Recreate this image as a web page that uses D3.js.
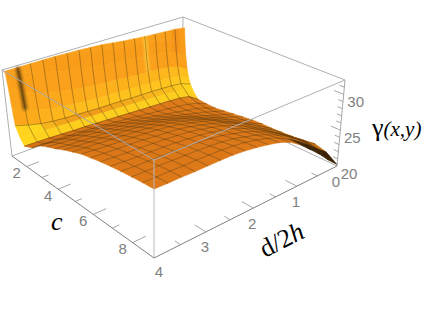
<!DOCTYPE html>
<html lang="en">
<head>
<meta charset="utf-8">
<title>Surface plot</title>
<script src="https://d3js.org/d3.v7.min.js"></script>
<style>
  html, body { margin: 0; background: #fff; }
  svg { display: block; }
  .tick-label { font: 15px "Liberation Sans", sans-serif; fill: #808080; }
  .axis-label { font-family: "Liberation Serif", serif; fill: #000; }
</style>
</head>
<body>
<svg id="chart" width="425" height="316"></svg>
<script>
// d/2h values (columns of the table)
const dValues = [0, 0.25, 0.5, 0.75, 1, 1.25, 1.5, 1.75, 2, 2.25, 2.5, 2.75, 3, 3.25, 3.5, 3.75, 4];
// c values (rows of the table), denser where the wall bends
const cValues = [1.1, 1.15, 1.2, 1.3, 1.4, 1.5, 1.75, 2, 2.5, 3, 3.5, 4, 4.5, 5, 5.5, 6, 6.5, 7, 7.5, 8, 8.5, 9];
// gamma, one row per c
const gammaValues = [
  [30.4, 30.6, 30.7, 30.8, 30.9, 31.05, 31.2, 31.4, 31.6, 31.7, 31.8, 31.85, 31.9, 31.9, 31.9, 31.9, 31.9],
  [27.8, 28.9, 29.4, 29.7, 29.9, 30.1, 30.35, 30.6, 30.85, 31.1, 31.4, 31.6, 31.8, 31.9, 31.9, 31.9, 31.9],
  [26, 27.1, 27.6, 27.8, 27.95, 28.1, 28.3, 28.5, 28.7, 28.95, 29.2, 29.5, 29.9, 30.3, 30.8, 31.3, 31.9],
  [24, 25, 25.4, 25.6, 25.7, 25.8, 25.95, 26.1, 26.25, 26.4, 26.6, 26.85, 27.1, 27.5, 28, 28.8, 29.8],
  [22.8, 23.6, 23.9, 24, 24.1, 24.2, 24.3, 24.4, 24.5, 24.6, 24.75, 24.9, 25.1, 25.4, 25.8, 26.4, 27.2],
  [22, 22.6, 22.8, 22.9, 23, 23.05, 23.1, 23.2, 23.25, 23.3, 23.4, 23.5, 23.6, 23.75, 24, 24.4, 24.9],
  [20.9, 21.9, 22.2, 22.35, 22.45, 22.55, 22.65, 22.75, 22.85, 22.95, 23.05, 23.15, 23.2, 23.3, 23.4, 23.5, 23.6],
  [20.2, 21.2, 21.5, 21.65, 21.75, 21.85, 21.95, 22.05, 22.15, 22.25, 22.35, 22.45, 22.5, 22.6, 22.7, 22.75, 22.8],
  [20.1, 20.8, 21.2, 21.45, 21.65, 21.85, 22.05, 22.25, 22.45, 22.6, 22.75, 22.9, 23, 23.1, 23.2, 23.25, 23.3],
  [20.1, 20.7, 21.2, 21.5, 21.8, 22.1, 22.4, 22.7, 22.95, 23.2, 23.4, 23.6, 23.75, 23.85, 24, 24.15, 24.3],
  [20.3, 20.8, 21.3, 21.7, 22.1, 22.5, 22.9, 23.2, 23.5, 23.8, 24, 24.2, 24.35, 24.5, 24.6, 24.75, 24.9],
  [20.5, 21, 21.5, 22, 22.5, 23, 23.4, 23.8, 24.15, 24.4, 24.6, 24.8, 24.95, 25.05, 25.15, 25.25, 25.4],
  [20.7, 21.3, 21.8, 22.4, 22.9, 23.5, 24, 24.4, 24.75, 25, 25.25, 25.4, 25.5, 25.65, 25.75, 25.85, 26],
  [20.9, 21.5, 22.1, 22.8, 23.4, 24, 24.5, 24.95, 25.3, 25.6, 25.8, 25.95, 26.05, 26.2, 26.3, 26.4, 26.5],
  [21, 21.7, 22.4, 23.1, 23.8, 24.5, 25, 25.4, 25.8, 26.1, 26.3, 26.45, 26.55, 26.65, 26.75, 26.85, 27],
  [21, 21.9, 22.7, 23.5, 24.2, 24.9, 25.4, 25.8, 26.2, 26.5, 26.65, 26.8, 26.95, 27.05, 27.1, 27.2, 27.3],
  [21.1, 22.1, 22.9, 23.7, 24.5, 25.2, 25.8, 26.2, 26.55, 26.85, 27, 27.15, 27.25, 27.35, 27.4, 27.5, 27.6],
  [21.2, 22.2, 23.1, 24, 24.8, 25.5, 26.1, 26.5, 26.9, 27.15, 27.3, 27.45, 27.55, 27.6, 27.65, 27.75, 27.85],
  [21.4, 22.4, 23.4, 24.3, 25.1, 25.8, 26.4, 26.8, 27.2, 27.45, 27.6, 27.75, 27.8, 27.85, 27.9, 27.95, 28.05],
  [21.6, 22.6, 23.6, 24.6, 25.4, 26.1, 26.7, 27.1, 27.5, 27.75, 27.9, 28, 28.05, 28.1, 28.15, 28.15, 28.2],
  [21.2, 22.3, 23.5, 24.6, 25.6, 26.4, 27, 27.45, 27.8, 28, 28.15, 28.2, 28.25, 28.25, 28.3, 28.3, 28.35],
  [20.2, 21.5, 23, 24.3, 25.6, 26.6, 27.2, 27.6, 27.9, 28.15, 28.3, 28.35, 28.35, 28.35, 28.4, 28.4, 28.45]
];
// tick values
const cTicks = [2, 3, 4, 5, 6, 7, 8];
const cLabels = [2, 4, 6, 8];
const dTicks = [0.5, 1, 1.5, 2, 2.5, 3, 3.5];
const dLabels = [0, 1, 2, 3, 4];
const gammaTicks = [21, 22, 23, 24, 25, 26, 27, 28, 29, 30, 31];
const gammaLabels = [20, 25, 30];

const svg = d3.select("#chart");

// box corners on screen, in order (d=0,c=1) (d=4,c=1) (d=4,c=9) (d=0,c=9)
const floorQuad = [[182, 93], [12, 156], [154, 258], [337, 166]];
const ceilQuad = [[183, 17], [2, 70], [154, 160], [345, 80]];

// maps the unit square on a quad
function quadMap(p) {
  var sx = p[0][0] - p[1][0] + p[2][0] - p[3][0], sy = p[0][1] - p[1][1] + p[2][1] - p[3][1];
  var dx1 = p[1][0] - p[2][0], dx2 = p[3][0] - p[2][0];
  var dy1 = p[1][1] - p[2][1], dy2 = p[3][1] - p[2][1];
  var den = dx1 * dy2 - dx2 * dy1;
  var g = (sx * dy2 - dx2 * sy) / den, h = (dx1 * sy - sx * dy1) / den;
  var a = p[1][0] - p[0][0] + g * p[1][0], b = p[3][0] - p[0][0] + h * p[3][0];
  var d = p[1][1] - p[0][1] + g * p[1][1], e = p[3][1] - p[0][1] + h * p[3][1];
  return function(s, t) {
    var w = g * s + h * t + 1;
    return [(a * s + b * t + p[0][0]) / w, (d * s + e * t + p[0][1]) / w];
  };
}

const floorMap = quadMap(floorQuad), ceilMap = quadMap(ceilQuad);
const dScale = d3.scaleLinear().domain([0, 4]).range([0, 1]);
const cScale = d3.scaleLinear().domain([1, 9]).range([0, 1]);
const gammaScale = d3.scaleLinear().domain([20, 32]).range([0, 1]);

function project(d, c, gamma) {
  var lo = floorMap(dScale(d), cScale(c)), hi = ceilMap(dScale(d), cScale(c));
  var k = gammaScale(gamma);
  return [lo[0] + (hi[0] - lo[0]) * k, lo[1] + (hi[1] - lo[1]) * k];
}

const line = d3.line();
const plot = svg.append("g").style("filter", "blur(0.5px)");

function edge(a, b, col) {
  plot.append("path").attr("d", line([a, b])).attr("fill", "none")
    .attr("stroke", col || "#b0b0b0").attr("stroke-width", 1);
}

// back of the box
edge(project(4, 1, 32), project(0, 1, 32));
edge(project(0, 1, 32), project(0, 9, 32));
edge(project(0, 1, 32), project(0, 1, 20));
edge(project(4, 1, 20), project(0, 1, 20));
edge(project(0, 1, 20), project(0, 9, 20));

// colour comes from the slope along c, dark where it drops fast towards d=0
const slopeColor = d3.scaleLinear()
  .domain([-2, -0.5, 0.5, 1.5, 3, 10, 20, 35])
  .range(["#c66a12", "#dc7818", "#de7a18", "#f0a01a", "#ffd51e", "#ffc81e", "#fca81b", "#f99c1a"])
  .clamp(true);
const darkMix = d3.scaleLinear().domain([4.1, 4.6]).range([0, 1]).clamp(true);

var cells = [];
for (var i = 0; i < cValues.length - 1; i++) {
  for (var j = 0; j < dValues.length - 1; j++) {
    var g00 = gammaValues[i][j], g01 = gammaValues[i][j + 1], g10 = gammaValues[i + 1][j], g11 = gammaValues[i + 1][j + 1];
    var alongC = ((g00 + g01) - (g10 + g11)) / 2 / (cValues[i + 1] - cValues[i]);
    var alongD = ((g01 + g11) - (g00 + g10)) / 2 / (dValues[j + 1] - dValues[j]);
    // the top of the wall is flattened by the plot range, keep it wall coloured
    if (cValues[i] < 1.3) alongC = Math.max(alongC, 30);
    var fill = slopeColor(alongC);
    if (alongC < 2) fill = d3.interpolateRgb(fill, "#3a2005")(darkMix(alongD));
    cells.push({
      depth: dScale(dValues[j]) + cScale(cValues[i]),
      fill: fill,
      pts: [project(dValues[j], cValues[i], g00), project(dValues[j + 1], cValues[i], g01),
            project(dValues[j + 1], cValues[i + 1], g11), project(dValues[j], cValues[i + 1], g10)]
    });
  }
}
cells.sort((a, b) => a.depth - b.depth);

plot.append("g").selectAll("path").data(cells).join("path")
  .attr("d", d => line(d.pts) + "Z")
  .attr("fill", d => d.fill)
  .attr("stroke", d => d.fill)
  .attr("stroke-width", 0.6);

// soft streaks on the wall: dark one near d=3.75, pale one near d=1
function wallStreak(j, lastRow, col, width, opacity) {
  plot.append("path")
    .attr("d", line(cValues.slice(0, lastRow).map((c, i) => project(dValues[j], c, gammaValues[i][j]))))
    .attr("fill", "none").attr("stroke", col).attr("stroke-width", width)
    .attr("stroke-opacity", opacity).style("filter", "blur(1.5px)");
}
wallStreak(15, 5, "#3c2a0c", 4, 0.75);
wallStreak(4, 4, "#ffe04a", 3, 0.8);
wallStreak(1, 3, "#e8801a", 6, 0.4);

// mesh lines, every d value and every half step of c
const mesh = plot.append("g").attr("fill", "none").attr("stroke", "#4a3208")
  .attr("stroke-opacity", 0.58).attr("stroke-width", 0.7);
dValues.forEach(function(d, j) {
  if (j == 0 || j == dValues.length - 1) return;
  mesh.append("path").attr("d", line(cValues.map((c, i) => project(d, c, gammaValues[i][j]))));
});
cValues.forEach(function(c, i) {
  if (c % 0.5 != 0 || c == 9) return;
  mesh.append("path").attr("d", line(dValues.map((d, j) => project(d, c, gammaValues[i][j]))));
});

// front of the box, drawn over the surface
edge(project(4, 1, 32), project(4, 9, 32), "#a8a8a8");
edge(project(4, 9, 32), project(0, 9, 32), "#b0b0b0");
edge(project(4, 1, 32), project(4, 1, 20), "#b0b0b0");
edge(project(0, 9, 32), project(0, 9, 20), "#a8a8a8");
edge(project(4, 9, 32), project(4, 9, 20), "#b8b8b8");
edge(project(4, 1, 20), project(4, 9, 20), "#808080");
edge(project(4, 9, 20), project(0, 9, 20), "#808080");

// ticks
function tick(a, b) {
  plot.append("path").attr("d", line([a, b])).attr("stroke", "#909090").attr("stroke-width", 0.8);
}
cTicks.forEach(c => tick(project(4, c, 20), project(cLabels.includes(c) ? 3.75 : 3.87, c, 20)));
dTicks.forEach(d => tick(project(d, 9, 20), project(d, Number.isInteger(d) ? 8.5 : 8.75, 20)));
gammaTicks.forEach(g => tick(project(0, 9, g), project(0, g % 5 == 0 ? 8.6 : 8.8, g)));

function tickLabel(p, dx, dy, text) {
  svg.append("text").attr("class", "tick-label").attr("x", p[0] + dx).attr("y", p[1] + dy)
    .attr("text-anchor", "middle").attr("dominant-baseline", "central").text(text);
}
cLabels.forEach(c => tickLabel(project(4, c, 20), -10, 6, c));
dLabels.forEach(d => tickLabel(project(d, 9, 20), d == 4 ? 5 : -1, d == 4 ? 13 : 15, d));
gammaLabels.forEach(g => tickLabel(project(0, 9, g), 12, 7, g));

// axis titles
svg.append("text").attr("class", "axis-label").attr("x", 51).attr("y", 230)
  .style("font-size", "26px").style("font-style", "italic").text("c");
svg.append("text").attr("class", "axis-label").attr("transform", "translate(265,258) rotate(-27)")
  .style("font-size", "26px").html('d/2<tspan font-style="italic">h</tspan>');
svg.append("text").attr("class", "axis-label").attr("x", 372).attr("y", 136)
  .style("font-size", "21px").html('<tspan font-size="26">γ</tspan><tspan font-style="italic">(x,y)</tspan>');
</script>
</body>
</html>
